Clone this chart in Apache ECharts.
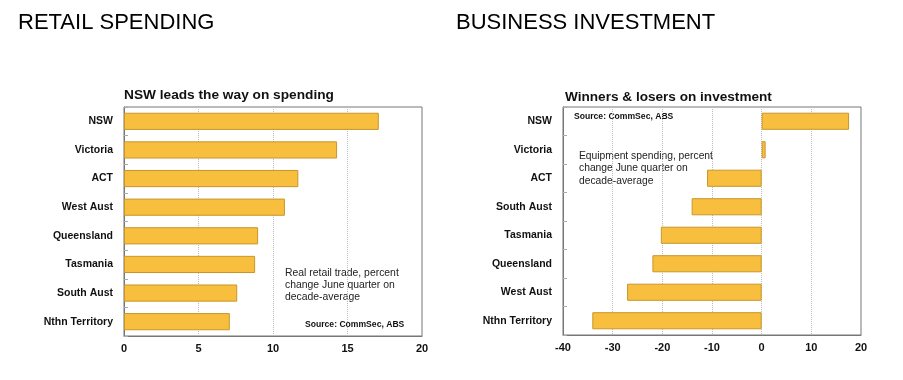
<!DOCTYPE html>
<html><head><meta charset="utf-8">
<script src="https://cdn.jsdelivr.net/npm/echarts@6/dist/echarts.min.js"></script>
<style>html,body{margin:0;padding:0;background:#fff}#c{width:903px;height:380px}</style>
</head><body><div id="c"></div>
<script>
const retailCategories = ['NSW','Victoria','ACT','West Aust','Queensland','Tasmania','South Aust','Nthn Territory'];
const retailValues = [17.1, 14.3, 11.7, 10.8, 9.0, 8.8, 7.6, 7.1];
const investCategories = ['NSW','Victoria','ACT','South Aust','Tasmania','Queensland','West Aust','Nthn Territory'];
const investValues = [17.6, 0.8, -11.0, -14.1, -20.3, -22.0, -27.1, -34.1];
const retailTicks = [0, 5, 10, 15, 20];
const investTicks = [-40, -30, -20, -10, 0, 10, 20];

const font = 'Liberation Sans, Arial, sans-serif';
const barColor = '#F8BF3E';
const barBorder = '#C9962A';
const chart = echarts.init(document.getElementById('c'));

function xAxisCfg(idx, ticks) {
  return {
    type: 'value', gridIndex: idx, min: ticks[0], max: ticks[ticks.length-1],
    interval: ticks[1]-ticks[0],
    axisLine: {show: true, lineStyle: {color: '#777', width: 1}},
    axisTick: {show: false},
    axisLabel: {color: '#111', fontWeight: 'bold', fontSize: 11, fontFamily: font, margin: 7},
    splitLine: {show: true, lineStyle: {color: '#bbb', type: 'dotted', width: 1}}
  };
}
function yAxisCfg(idx, cats) {
  return {
    type: 'category', gridIndex: idx, data: cats, inverse: true,
    axisLine: {show: true, onZero: false, lineStyle: {color: '#777', width: 1}},
    axisTick: {show: true, inside: true, length: 4, lineStyle: {color: '#aaa'}},
    axisLabel: {color: '#111', fontWeight: 'bold', fontSize: 10.5, fontFamily: font, margin: 11},
    splitLine: {show: false}
  };
}

chart.setOption({
  animation: false,
  title: [
    {text: 'RETAIL SPENDING', left: 13, top: 7, textStyle: {fontSize: 22, fontWeight: 'normal', color: '#000', fontFamily: font}},
    {text: 'BUSINESS INVESTMENT', left: 451, top: 7, textStyle: {fontSize: 22, fontWeight: 'normal', color: '#000', fontFamily: font}},
    {text: 'NSW leads the way on spending', left: 119, top: 83, textStyle: {fontSize: 13.7, fontWeight: 'bold', color: '#111', fontFamily: font}},
    {text: 'Winners & losers on investment', left: 560, top: 85, textStyle: {fontSize: 13.6, fontWeight: 'bold', color: '#111', fontFamily: font}}
  ],
  grid: [
    {left: 124, top: 107, width: 298, height: 229, show: true, borderColor: '#777', borderWidth: 1, backgroundColor: 'transparent'},
    {left: 563, top: 107, width: 298, height: 228, show: true, borderColor: '#777', borderWidth: 1, backgroundColor: 'transparent'}
  ],
  xAxis: [xAxisCfg(0, retailTicks), xAxisCfg(1, investTicks)],
  yAxis: [yAxisCfg(0, retailCategories), yAxisCfg(1, investCategories)],
  series: [
    {type: 'bar', xAxisIndex: 0, yAxisIndex: 0, data: retailValues, barWidth: '60%',
     itemStyle: {color: barColor, borderColor: barBorder, borderWidth: 1}},
    {type: 'bar', xAxisIndex: 1, yAxisIndex: 1, data: investValues, barWidth: '60%',
     itemStyle: {color: barColor, borderColor: barBorder, borderWidth: 1}}
  ],
  graphic: [
    {type: 'text', left: 285, top: 266.5, style: {text: 'Real retail trade, percent\nchange June quarter on\ndecade-average', fill: '#222', font: '10.4px ' + font, lineHeight: 12.4}},
    {type: 'text', left: 305, top: 320, style: {text: 'Source: CommSec, ABS', fill: '#111', font: 'bold 8.6px ' + font}},
    {type: 'text', left: 574, top: 112.5, style: {text: 'Source: CommSec, ABS', fill: '#111', font: 'bold 8.6px ' + font}},
    {type: 'text', left: 579, top: 150, style: {text: 'Equipment spending, percent\nchange June quarter on\ndecade-average', fill: '#222', font: '10.3px ' + font, lineHeight: 12.4}}
  ]
});
</script></body></html>
